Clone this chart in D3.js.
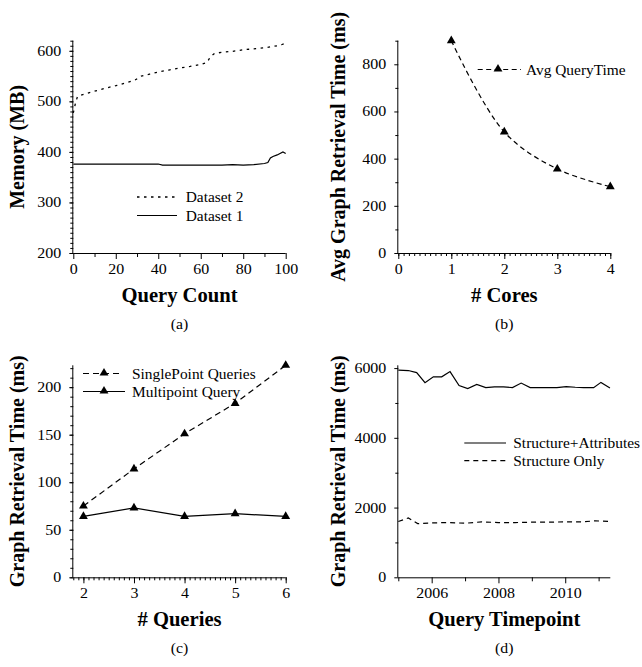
<!DOCTYPE html>
<html><head><meta charset="utf-8">
<script src="https://cdn.jsdelivr.net/npm/d3@7"></script>
<style>
html,body{margin:0;padding:0;background:#fff;}
svg text{font-family:"Liberation Serif","Times New Roman",serif;fill:#000;}
.axis path,.axis line{stroke:#000;stroke-width:1;}
</style></head><body>
<script>
// ---- Data ----
// (a) Memory vs Query Count
const aQuery2 = [0,1,2,5,10,15,20,25,29,32,36,40,45,50,55,60,63,64.5,66.5,70,75,80,85,90,93.3,96,98,100];
const aDataset2 = [477,496,510,514,520,526,531,537,542,550,554,558,562,566,569,573,577,588,595,597,599,602,604,606,608,610,612,615];
const aQuery1 = [0,10,20,30,40,42,50,60,70,75,80,85,90,91.6,92.8,94,96,98.7,100];
const aDataset1 = [376,376,376,376,376,374,374,374,374,375,374,375,377,379,388,391,394,400,397];
const aYTicks = [200,300,400,500,600];
const aXTicks = [0,20,40,60,80,100];
// (b) Avg Graph Retrieval Time vs # Cores
const bCores = [1,2,3,4];
const bAvgQueryTime = [900,513,356,281];
const bYTicks = [0,200,400,600,800];
const bXTicks = [0,1,2,3,4];
// (c) Graph Retrieval Time vs # Queries
const cQueries = [2,3,4,5,6];
const cSinglePoint = [75,114,151,183,223];
const cMultipoint = [64,73,64,67,64];
const cYTicks = [0,50,100,150,200];
const cXTicks = [2,3,4,5,6];
// (d) Graph Retrieval Time vs Query Timepoint
const dTimeSA = [2005.0,2005.3,2005.55,2005.8,2006.05,2006.3,2006.55,2006.82,2007.08,2007.35,2007.62,2007.88,2008.15,2008.42,2008.68,2008.95,2009.2,2009.5,2009.75,2010.03,2010.3,2010.55,2010.85,2011.07,2011.34];
const dStructAttr = [5940,5930,5870,5580,5750,5750,5900,5500,5410,5530,5440,5460,5460,5440,5570,5440,5440,5440,5440,5470,5450,5440,5440,5590,5430];
const dTimeS = [2005.0,2005.3,2005.58,2006.0,2006.5,2007.0,2007.5,2008.0,2008.5,2009.0,2009.5,2010.0,2010.5,2010.9,2011.34];
const dStructOnly = [1600,1700,1540,1560,1570,1550,1590,1570,1570,1580,1580,1590,1590,1620,1600];
const dYTicks = [0,2000,4000,6000];
const dXTicks = [2006,2008,2010];

const W = 642, H = 667;
const svg = d3.select("body").append("svg").attr("width", W).attr("height", H);

function range(a, b, s) { const r = []; for (let v = a; v <= b + 1e-9; v += s) r.push(+v.toFixed(6)); return r; }

function drawAxes(g, x, y, o) {
  // minor ticks
  g.append("g").attr("class", "axis").attr("transform", `translate(0,${y.range()[0]})`)
    .call(d3.axisBottom(x).tickValues(o.xMinor).tickSize(o.xMinorLen || 3).tickSizeOuter(0).tickFormat(""))
    .call(s => s.select(".domain").remove());
  g.append("g").attr("class", "axis").attr("transform", `translate(${x.range()[0]},0)`)
    .call(d3.axisLeft(y).tickValues(o.yMinor).tickSize(3).tickSizeOuter(0).tickFormat(""))
    .call(s => s.select(".domain").remove());
  // major
  const gx = g.append("g").attr("class", "axis").attr("transform", `translate(0,${y.range()[0]})`)
    .call(d3.axisBottom(x).tickValues(o.xTicks).tickSize(6).tickPadding(5).tickSizeOuter(0).tickFormat(d3.format("d")));
  gx.selectAll("text").attr("font-size", 14).attr("font-family", "Liberation Serif");
  const gy = g.append("g").attr("class", "axis").attr("transform", `translate(${x.range()[0]},0)`)
    .call(d3.axisLeft(y).tickValues(o.yTicks).tickSize(4).tickPadding(8).tickSizeOuter(0).tickFormat(d3.format("d")));
  gy.selectAll("text").attr("font-size", 14).attr("font-family", "Liberation Serif");
  gx.select(".domain").attr("d", `M${x.range()[0]},0.5H${x.range()[1]}`);
  gy.select(".domain").attr("d", `M-0.5,${y.range()[0]}V${y.range()[1]}`);
  // titles
  const cx = (x.range()[0] + x.range()[1]) / 2;
  g.append("text").attr("class", "xt").attr("x", cx).attr("y", y.range()[0] + 49)
    .attr("text-anchor", "middle").attr("font-size", 20).attr("font-weight", "bold").text(o.xTitle);
  const cy = (y.range()[0] + y.range()[1]) / 2;
  g.append("text").attr("transform", `translate(${o.ytx},${cy}) rotate(-90)`)
    .attr("text-anchor", "middle").attr("font-size", 20).attr("font-weight", "bold").text(o.yTitle);
  g.append("text").attr("class", "cap").attr("x", cx + o.capDx).attr("y", y.range()[0] + 76)
    .attr("text-anchor", "middle").attr("font-size", 15).text(o.cap);
}

const tri = d3.symbol().type(d3.symbolTriangle).size(34);

// ---- (a) ----
{
  const g = svg.append("g");
  const x = d3.scaleLinear().domain([0, 100]).range([73.3, 285.7]);
  const y = d3.scaleLinear().domain([200, 620]).range([253, 40.7]);
  drawAxes(g, x, y, {xTicks: aXTicks, yTicks: aYTicks, xMinor: range(10, 90, 20), xMinorLen: 4, yMinor: range(200, 620, 10),
    xTitle: "Query Count", yTitle: "Memory (MB)", ytx: 24, cap: "(a)", capDx: 0});
  const l2 = d3.line().x((d, i) => x(aQuery2[i])).y(d => y(d));
  g.append("path").datum(aDataset2).attr("d", l2).attr("fill", "none").attr("stroke", "#000")
    .attr("stroke-width", 1.3).attr("stroke-dasharray", "2.5,4.5");
  const l1 = d3.line().x((d, i) => x(aQuery1[i])).y(d => y(d));
  g.append("path").datum(aDataset1).attr("d", l1).attr("fill", "none").attr("stroke", "#000").attr("stroke-width", 1.2);
  // legend
  g.append("line").attr("x1", 137).attr("x2", 177).attr("y1", 197).attr("y2", 197).attr("stroke", "#000")
    .attr("stroke-width", 1.3).attr("stroke-dasharray", "2.5,4.5");
  g.append("text").attr("class", "lg").attr("x", 185.7).attr("y", 202).attr("font-size", 14).text("Dataset 2");
  g.append("line").attr("x1", 137).attr("x2", 177).attr("y1", 215.5).attr("y2", 215.5).attr("stroke", "#000").attr("stroke-width", 1.2);
  g.append("text").attr("class", "lg").attr("x", 185.7).attr("y", 220.5).attr("font-size", 14).text("Dataset 1");
}

// ---- (b) ----
{
  const g = svg.append("g");
  const x = d3.scaleLinear().domain([0, 4]).range([398.3, 610.3]);
  const y = d3.scaleLinear().domain([0, 900]).range([253, 40.7]);
  drawAxes(g, x, y, {xTicks: bXTicks, yTicks: bYTicks, xMinor: range(0, 4, 0.1), yMinor: [100, 300, 500, 700, 900],
    xTitle: "# Cores", yTitle: "Avg Graph Retrieval Time (ms)", ytx: 345, cap: "(b)", capDx: 0});
  const line = d3.line().curve(d3.curveCatmullRom.alpha(0.5)).x((d, i) => x(bCores[i])).y(d => y(d));
  g.append("path").datum(bAvgQueryTime).attr("d", line).attr("fill", "none").attr("stroke", "#000")
    .attr("stroke-width", 1.2).attr("stroke-dasharray", "5,3.5");
  g.selectAll(".m").data(bAvgQueryTime).join("path").attr("d", tri)
    .attr("transform", (d, i) => `translate(${x(bCores[i])},${y(d)})`).attr("fill", "#000");
  g.append("line").attr("x1", 477.7).attr("x2", 521).attr("y1", 69.5).attr("y2", 69.5).attr("stroke", "#000")
    .attr("stroke-width", 1.2).attr("stroke-dasharray", "5,3.5");
  g.append("path").attr("d", tri).attr("transform", "translate(498,69)").attr("fill", "#000");
  g.append("text").attr("class", "lg").attr("x", 526).attr("y", 74.5).attr("font-size", 14).text("Avg QueryTime");
}

// ---- (c) ----
{
  const g = svg.append("g");
  const x = d3.scaleLinear().domain([1.8, 6]).range([73.3, 285.7]);
  const y = d3.scaleLinear().domain([0, 223]).range([577.3, 365.3]);
  drawAxes(g, x, y, {xTicks: cXTicks, yTicks: cYTicks, xMinor: range(1.8, 6, 0.1), yMinor: range(0, 220, 10),
    xTitle: "# Queries", yTitle: "Graph Retrieval Time (ms)", ytx: 24, cap: "(c)", capDx: 0});
  const ls = d3.line().x((d, i) => x(cQueries[i])).y(d => y(d));
  g.append("path").datum(cSinglePoint).attr("d", ls).attr("fill", "none").attr("stroke", "#000")
    .attr("stroke-width", 1.2).attr("stroke-dasharray", "6,4");
  g.append("path").datum(cMultipoint).attr("d", ls).attr("fill", "none").attr("stroke", "#000").attr("stroke-width", 1.2);
  g.selectAll(".ms").data(cSinglePoint).join("path").attr("d", tri)
    .attr("transform", (d, i) => `translate(${x(cQueries[i])},${y(d)})`).attr("fill", "#000");
  g.selectAll(".mm").data(cMultipoint).join("path").attr("d", tri)
    .attr("transform", (d, i) => `translate(${x(cQueries[i])},${y(d)})`).attr("fill", "#000");
  g.append("line").attr("x1", 83).attr("x2", 120).attr("y1", 373.5).attr("y2", 373.5).attr("stroke", "#000")
    .attr("stroke-width", 1.2).attr("stroke-dasharray", "6,4");
  g.append("path").attr("d", tri).attr("transform", "translate(104,373)").attr("fill", "#000");
  g.append("text").attr("class", "lg").attr("x", 132).attr("y", 378.5).attr("font-size", 14).text("SinglePoint Queries");
  g.append("line").attr("x1", 83).attr("x2", 125).attr("y1", 391.5).attr("y2", 391.5).attr("stroke", "#000").attr("stroke-width", 1.2);
  g.append("path").attr("d", tri).attr("transform", "translate(104,391)").attr("fill", "#000");
  g.append("text").attr("class", "lg").attr("x", 132).attr("y", 396.5).attr("font-size", 14).text("Multipoint Query");
}

// ---- (d) ----
{
  const g = svg.append("g");
  const x = d3.scaleLinear().domain([2005, 2011.35]).range([398.3, 610.3]);
  const y = d3.scaleLinear().domain([0, 6080]).range([577.3, 365.3]);
  drawAxes(g, x, y, {xTicks: dXTicks, yTicks: dYTicks, xMinor: [2005, 2007, 2009, 2011], xMinorLen: 4, yMinor: [1000, 3000, 5000],
    xTitle: "Query Timepoint", yTitle: "Graph Retrieval Time (ms)", ytx: 345, cap: "(d)", capDx: 0});
  const la = d3.line().x((d, i) => x(dTimeSA[i])).y(d => y(d));
  g.append("path").datum(dStructAttr).attr("d", la).attr("fill", "none").attr("stroke", "#000").attr("stroke-width", 1.2);
  const lb = d3.line().x((d, i) => x(dTimeS[i])).y(d => y(d));
  g.append("path").datum(dStructOnly).attr("d", lb).attr("fill", "none").attr("stroke", "#000")
    .attr("stroke-width", 1.2).attr("stroke-dasharray", "5,4");
  g.append("line").attr("x1", 464.3).attr("x2", 506).attr("y1", 443).attr("y2", 443).attr("stroke", "#000").attr("stroke-width", 1.2);
  g.append("text").attr("class", "lg").attr("x", 513.3).attr("y", 448).attr("font-size", 14).text("Structure+Attributes");
  g.append("line").attr("x1", 464.3).attr("x2", 506).attr("y1", 460.7).attr("y2", 460.7).attr("stroke", "#000")
    .attr("stroke-width", 1.2).attr("stroke-dasharray", "5,4");
  g.append("text").attr("class", "lg").attr("x", 513.3).attr("y", 465.7).attr("font-size", 14).text("Structure Only");
}

// horizontal stretch of glyphs (the reference is slightly widened)
function stretch(sel, k) {
  sel.each(function () {
    const w = this.getComputedTextLength();
    if (w > 0) { this.setAttribute("textLength", (w * k).toFixed(2)); this.setAttribute("lengthAdjust", "spacingAndGlyphs"); }
  });
}
stretch(svg.selectAll(".axis text"), 1.14);
stretch(svg.selectAll("text.lg"), 1.1);
stretch(svg.selectAll("text.xt"), 1.03);
stretch(svg.selectAll("text.cap"), 1.05);
</script>
</body></html>
